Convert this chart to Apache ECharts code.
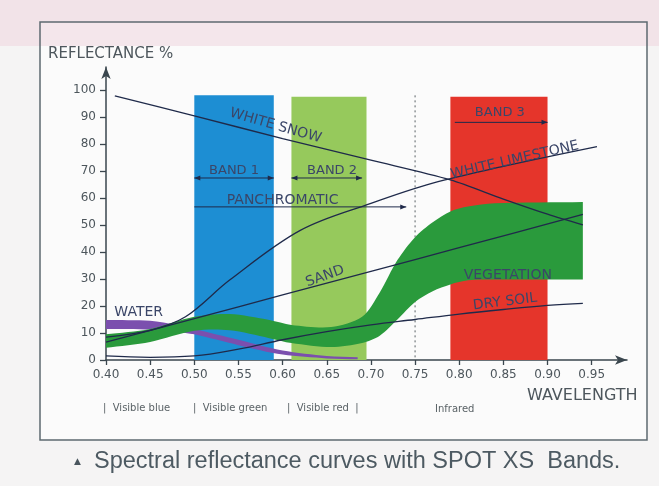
<!DOCTYPE html>
<html><head><meta charset="utf-8">
<script src="https://cdn.jsdelivr.net/npm/echarts@6/dist/echarts.min.js"></script>
<style>html,body{margin:0;padding:0;background:#f5f4f4}#c{width:659px;height:486px}</style>
</head><body><div id="c"></div><script>
// ---- tick labels ----
const xTicks = [0.40,0.45,0.50,0.55,0.60,0.65,0.70,0.75,0.80,0.85,0.90,0.95];
const yTicks = [0,10,20,30,40,50,60,70,80,90,100];
// ---- SPOT bands ----
const bandNames = ['BAND 1','BAND 2','BAND 3'];
const bandStart = [0.50,0.61,0.79];
const bandEnd   = [0.59,0.695,0.90];
const bandTop   = [98,97.5,97.5];
// ---- curves ----
const snowX = [0.41,0.50,0.60,0.70,0.79,0.85,0.90,0.94];
const snowY = [97.8,90.4,82,74,66.7,59.6,54,50];
const limeX = [0.40,0.45,0.49,0.54,0.62,0.70,0.77,0.85,0.956];
const limeY = [8.5,11,16,29.6,48,58,65.5,71.7,79];
const sandX = [0.40,0.50,0.60,0.70,0.80,0.94];
const sandY = [6.6,15.3,24.1,32.8,41.6,53.9];
const soilX = [0.40,0.45,0.50,0.55,0.60,0.65,0.70,0.75,0.80,0.85,0.90,0.94];
const soilY = [1.5,1,1.5,4,7.5,10.5,13,15,17,18.7,20.2,21];
const waterX    = [0.40,0.45,0.48,0.50,0.55,0.60,0.65,0.685];
const waterLow  = [11.5,11.3,10.5,9.5,5.5,2,0.6,0.3];
const waterHigh = [14.8,14.5,13,11.5,7.5,3.5,1.5,1];
const vegX    = [0.40,0.45,0.50,0.54,0.585,0.61,0.655,0.69,0.71,0.73,0.75,0.77,0.79,0.81,0.84,0.94];
const vegLow  = [4.5,6.7,10.8,11,8.1,6.3,4.8,6.3,9,15,21.5,25.5,28,29.5,29.8,29.8];
const vegHigh = [9.5,11.5,16,17,14.8,13,12.2,16,25,37,45.5,51,55,56.8,58,58.5];
// ---- annotations ----
const labelText = ['WHITE SNOW','BAND 1','BAND 2','PANCHROMATIC','BAND 3','WHITE LIMESTONE','SAND','VEGETATION','DRY SOIL','WATER'];
const labelX = [0.592,0.545,0.656,0.60,0.846,0.863,0.648,0.855,0.852,0.437];
const labelY = [86.7,70,70,59.3,91.5,74,31,31.5,21.5,17.8];
const labelRot = [-16,0,0,0,0,13,20,0,7,0];
const arrowFrom = [0.50,0.61,0.50,0.795];
const arrowTo   = [0.59,0.69,0.74,0.90];
const arrowAt   = [67.4,67.4,56.7,88];
const arrowBoth = [1,1,0,0];
const dividerX = 0.75, dividerTop = 98;

const lineCol = '#1f2a4a';
const txtCol = '#3b4668';
const bandColors = ['#1d8ed3','#96c95c','#e5352b'];

const chart = echarts.init(document.getElementById('c'), null, {renderer:'canvas'});
const zip = (xs, ys) => xs.map((x,i)=>[x, ys[i]]);

function arrowHead(x, y, dir) {
  const L = 6, W = 2.5;
  return {type:'polygon', shape:{points:[[x,y],[x-dir*L,y-W],[x-dir*L,y+W]]}, style:{fill:lineCol}};
}
// filled band between a lower and an upper curve, corners kept sharp
function bandSeries(name, xs, lo, hi, color, z) {
  return {type:'custom', name, z, encode:{x:0, y:[1,2]},
    data: xs.map((x,i)=>[x, lo[i], hi[i]]),
    renderItem:(params, api)=>{
      if (params.dataIndex !== 0) return;
      const up = xs.map((x,i)=>api.coord([x, hi[i]]));
      const dn = xs.map((x,i)=>api.coord([x, lo[i]])).reverse();
      const pts = [up[0]].concat(up, [up[up.length-1]], [dn[0]], dn, [dn[dn.length-1]]);
      return {type:'polygon', shape:{points:pts, smooth:0.3}, style:{fill:color}};
    }};
}

const option = {
  backgroundColor:'#f5f4f4',
  animation:false,
  grid:{left:106, right:32, top:67, bottom:126},
  xAxis:{type:'value', min:0.40, max:0.99,
    axisLine:{lineStyle:{color:'#3a464e', width:1.5}, symbol:['none','arrow'], symbolSize:[7,12]},
    axisTick:{customValues:xTicks, length:5, lineStyle:{color:'#3a464e', width:1.3}},
    axisLabel:{customValues:xTicks, formatter:v=>v.toFixed(2), color:'#4d565c', fontFamily:'DejaVu Sans', fontSize:12, margin:9},
    splitLine:{show:false}},
  yAxis:{type:'value', min:0, max:108.5,
    axisLine:{show:true, lineStyle:{color:'#3a464e', width:1.5}, symbol:['none','arrow'], symbolSize:[7,12]},
    axisTick:{show:true, customValues:yTicks, length:6, lineStyle:{color:'#3a464e', width:1.3}},
    axisLabel:{customValues:yTicks, color:'#4d565c', fontFamily:'DejaVu Sans', fontSize:12, margin:10},
    splitLine:{show:false}},
  graphic:[
    {type:'rect', shape:{x:40,y:22,width:607,height:418}, style:{fill:'#fbfbfb'}, z:-10},
    {type:'rect', shape:{x:0,y:0,width:659,height:46}, style:{fill:'rgba(238,214,222,0.55)'}, z:-9},
    {type:'rect', shape:{x:40,y:22,width:607,height:418}, style:{fill:'none', stroke:'#5d6a70', lineWidth:1.5}, z:-8},
    {type:'text', x:48, y:54, style:{text:'REFLECTANCE %', fill:'#4d565c', font:'15px "DejaVu Sans"', verticalAlign:'middle'}},
    {type:'text', x:527, y:396, style:{text:'WAVELENGTH', fill:'#4d565c', font:'16px "DejaVu Sans"', verticalAlign:'middle'}},
    {type:'text', x:103, y:408, style:{text:'|  Visible blue', fill:'#5a6266', font:'10px "DejaVu Sans"', verticalAlign:'middle'}},
    {type:'text', x:193, y:408, style:{text:'|  Visible green', fill:'#5a6266', font:'10px "DejaVu Sans"', verticalAlign:'middle'}},
    {type:'text', x:287, y:408, style:{text:'|  Visible red  |', fill:'#5a6266', font:'10px "DejaVu Sans"', verticalAlign:'middle'}},
    {type:'text', x:435, y:409, style:{text:'Infrared', fill:'#5a6266', font:'10px "DejaVu Sans"', verticalAlign:'middle'}},
    {type:'text', x:74, y:462, style:{text:'\u25B2', fill:'#4a565e', font:'9px "DejaVu Sans"', verticalAlign:'middle'}},
    {type:'text', x:94, y:462, style:{text:'Spectral reflectance curves with SPOT XS  Bands.', fill:'#4d5a62', font:'23.5px "Liberation Sans"', verticalAlign:'middle'}}
  ],
  series:[
    {type:'custom', name:'bands', z:1, encode:{x:[0,1], y:2},
     data: bandNames.map((n,i)=>[bandStart[i], bandEnd[i], bandTop[i]]),
     renderItem:(params, api)=>{
       const a = api.coord([api.value(0), api.value(2)]);
       const b = api.coord([api.value(1), 0]);
       return {type:'rect', shape:{x:a[0], y:a[1], width:b[0]-a[0], height:b[1]-a[1]}, style:{fill:bandColors[params.dataIndex]}};
     }},
    {type:'custom', name:'divider', z:1, encode:{x:0, y:1},
     data:[[dividerX, dividerTop]],
     renderItem:(params, api)=>{
       const a = api.coord([api.value(0), api.value(1)]);
       const b = api.coord([api.value(0), 0]);
       return {type:'line', shape:{x1:a[0], y1:a[1], x2:b[0], y2:b[1]}, style:{stroke:'#5a6266', lineWidth:1, lineDash:[2,3]}};
     }},
    bandSeries('water', waterX, waterLow, waterHigh, '#7b4fae', 3),
    bandSeries('vegetation', vegX, vegLow, vegHigh, '#2a9a3c', 4),
    {type:'line', name:'sand', z:5, smooth:0.3, symbol:'none', lineStyle:{color:lineCol, width:1.3}, data: zip(sandX, sandY)},
    {type:'line', name:'dry soil', z:5, smooth:0.4, symbol:'none', lineStyle:{color:lineCol, width:1.3}, data: zip(soilX, soilY)},
    {type:'line', name:'white limestone', z:5, smooth:0.35, symbol:'none', lineStyle:{color:lineCol, width:1.3}, data: zip(limeX, limeY)},
    {type:'line', name:'white snow', z:5, smooth:0.3, symbol:'none', lineStyle:{color:lineCol, width:1.3}, data: zip(snowX, snowY)},
    {type:'custom', name:'arrows', z:6, encode:{x:[0,1], y:2},
     data: arrowFrom.map((x,i)=>[x, arrowTo[i], arrowAt[i]]),
     renderItem:(params, api)=>{
       const a = api.coord([api.value(0), api.value(2)]);
       const b = api.coord([api.value(1), api.value(2)]);
       const ch = [{type:'line', shape:{x1:a[0], y1:a[1], x2:b[0], y2:b[1]}, style:{stroke:lineCol, lineWidth:1}}, arrowHead(b[0], b[1], 1)];
       if (arrowBoth[params.dataIndex]) ch.push(arrowHead(a[0], a[1], -1));
       return {type:'group', children:ch};
     }},
    {type:'custom', name:'labels', z:7, encode:{x:0, y:1},
     data: zip(labelX, labelY),
     renderItem:(params, api)=>{
       const p = api.coord([api.value(0), api.value(1)]);
       const i = params.dataIndex;
       const size = labelText[i].indexOf('BAND') === 0 ? 13 : 14;
       return {type:'text', x:p[0], y:p[1], rotation: labelRot[i]*Math.PI/180,
         style:{text:labelText[i], fill:txtCol, font:size + 'px "DejaVu Sans"', align:'center', verticalAlign:'middle'}};
     }}
  ]
};
chart.setOption(option);
</script></body></html>
